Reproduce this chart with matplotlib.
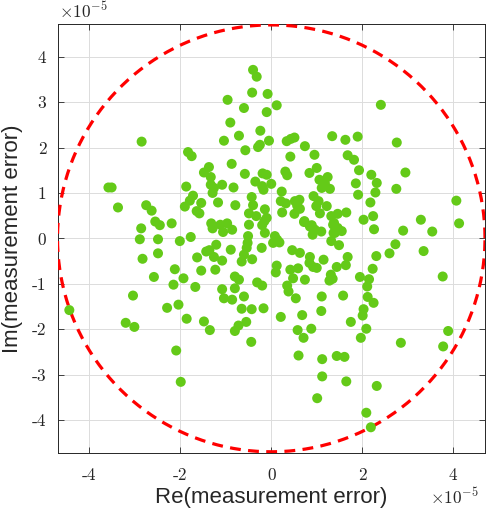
import numpy as np
import matplotlib
matplotlib.use('Agg')
import matplotlib.pyplot as plt

plt.rcParams['axes.unicode_minus'] = False
plt.rcParams['mathtext.fontset'] = 'cm'

# measurement errors, in units of 1e-5
re_err = [
    -0.40, -0.32, -0.42, -0.08, -0.96, -0.60, -0.10, -0.90, -0.24, -0.71,
    -0.05, -1.04, -2.85, -0.29, -0.25, -0.57, -1.83, -1.75, -0.87, -1.37,
    -1.48, -0.58, -0.19, -0.10, -1.33, -0.35, -1.33, -1.26, -1.08, -0.20,
    -0.17, -3.58, -3.51, -1.87, -0.83, -1.29, -0.43, -1.72, -1.79, -1.54,
    -1.17, -3.37, -2.75, -2.63, -0.40, -0.79, -1.90, -0.14, -1.64, -1.58,
    -0.49, -0.33, -0.15, -0.10, -2.55, -2.45, -2.19, -1.32, -1.29, -1.12,
    -0.97, -1.06, -0.86, -0.49, -0.20, -2.86, -0.14, -2.89, -2.49, -2.01,
    -1.77, -0.51, -0.52, -0.54, -1.21, -0.89, -0.21, -2.49, -2.83,
    -1.63, -1.43, -1.36, -1.26, -1.08, -0.65, -0.60, -0.42,
    -2.12, -1.93, -1.54, -1.23, -2.58, -2.15, -1.67, -1.08, -0.80, -0.71,
    -0.80, -0.60, -0.31, -0.20, -3.04, -1.04, -0.86, -4.44, -2.29, -2.04,
    -1.86, -1.48, -1.35, -3.20, -3.01, -0.65, -0.43, -0.17, -0.55, -0.72,
    -0.80, -0.44, -2.09, -1.99,
    0.12, 2.41, 0.34, 0.43, 0.51, 1.34, 1.63, 1.90, 2.76, 0.74,
    0.42, 0.95, 1.68, 1.82, 2.95, 0.31, 0.35, 0.84, 1.00, 1.93,
    2.20, 1.06, 1.24, 1.18, 1.29, 1.11, 2.32, 1.86, 0.00, 2.75,
    2.29, 1.91, 0.23, 0.21, 0.32, 0.52, 0.62, 0.57, 0.93, 1.04,
    0.99, 1.22, 1.07, 0.24, 0.51, 1.65, 1.46, 1.32, 2.18, 2.24,
    2.03, 4.07, 3.29, 4.13, 0.72, 0.89, 0.96, 0.91, 1.10, 1.38,
    1.46, 1.37, 1.55, 2.26, 2.90, 3.54, 0.08, 0.04, 0.18, 1.32,
    1.49, 0.46, 0.63, 0.85, 1.15, 1.68, 2.31, 2.60, 2.73, 3.35,
    0.13, 0.63, 0.73, 0.85, 0.92, 1.36, 1.40,
    2.23, 3.77, 1.95, 2.15, 2.11, 1.64, 1.44, 1.31, 1.35, 1.28,
    0.84, 0.92, 1.00, 0.74, 0.59, 0.42, 0.48, 0.35, 0.38, 0.12,
    0.10, 0.54, 1.11, 1.58, 2.12, 2.25, 0.21, 0.68, 1.10, 2.03,
    2.01, 1.75, 0.58, 0.71, 0.88, 2.09, 1.97, 3.89, 2.85, 3.78,
    0.60, 1.12, 1.44, 1.61, 1.12, 1.65, 2.32, 1.01, 2.09, 2.19,
]
im_err = [
    3.71, 3.56, 3.21, 3.18, 3.05, 2.87, 2.78, 2.55, 2.37, 2.26,
    2.15, 2.15, 2.13, 2.01, 2.06, 1.94, 1.90, 1.81, 1.64, 1.57,
    1.45, 1.42, 1.43, 1.40, 1.35, 1.25, 1.18, 1.11, 1.18, 1.15,
    1.07, 1.12, 1.12, 1.14, 1.12, 1.00, 0.91, 0.94, 0.83, 0.78,
    0.79, 0.68, 0.73, 0.61, 0.73, 0.73, 0.70, 0.64, 0.60, 0.55,
    0.55, 0.49, 0.38, 0.45, 0.37, 0.29, 0.33, 0.33, 0.22, 0.30,
    0.33, 0.14, 0.19, 0.30, 0.29, 0.22, 0.12, -0.02, -0.02, -0.06,
    0.03, 0.05, -0.10, -0.21, -0.14, -0.25, -0.21, -0.33, -0.45,
    -0.42, -0.29, -0.26, -0.41, -0.49, -0.51, -0.36, -0.46,
    -0.68, -0.88, -0.71, -0.69, -0.85, -1.02, -1.07, -1.12, -0.84, -0.91,
    -1.10, -1.28, -0.97, -1.04, -1.26, -1.32, -1.35, -1.58, -1.53, -1.46,
    -1.77, -1.83, -2.02, -1.86, -1.95, -1.55, -1.56, -1.54, -1.84, -1.92,
    -2.04, -2.28, -2.47, -3.16,
    2.93, 2.94, 2.14, 2.19, 2.22, 2.25, 2.17, 2.24, 2.11, 2.03,
    1.80, 1.84, 1.83, 1.73, 1.45, 1.47, 1.39, 1.44, 1.55, 1.50,
    1.40, 1.29, 1.35, 1.21, 1.09, 1.11, 1.22, 1.21, 1.20, 1.09,
    1.01, 0.96, 1.03, 0.82, 0.77, 0.82, 0.85, 0.72, 0.93, 0.82,
    0.71, 0.71, 0.55, 0.57, 0.54, 0.57, 0.54, 0.49, 0.79, 0.49,
    0.41, 0.83, 0.41, 0.33, 0.36, 0.29, 0.19, 0.08, 0.15, 0.34,
    0.23, 0.12, 0.16, 0.20, 0.17, 0.15, 0.05, -0.10, -0.09, -0.06,
    -0.15, -0.26, -0.32, -0.41, -0.47, -0.41, -0.39, -0.33, -0.13, -0.28,
    -0.03, 0.65, 0.38, 0.26, 0.21, 0.30, 0.12,
    -0.67, -0.84, -0.85, -0.90, -1.06, -0.59, -0.63, -0.80, -0.89, -0.93,
    -0.54, -0.63, -0.65, -0.91, -0.66, -0.69, -0.88, -1.04, -1.17, -0.60,
    -0.75, -1.32, -1.28, -1.26, -1.29, -1.42, -1.73, -1.69, -1.60, -1.56,
    -1.70, -1.84, -2.02, -2.19, -1.99, -1.99, -2.19, -2.04, -2.30, -2.38,
    -2.58, -2.66, -2.59, -2.61, -3.04, -3.15, -3.25, -3.52, -3.84, -4.16,
]
radius = 4.7
xticks = [-4, -2, 0, 2, 4]
yticks = [-4, -3, -2, -1, 0, 1, 2, 3, 4]

W, H = 488, 513
fig = plt.figure(figsize=(W / 100, H / 100), dpi=100)
ax = fig.add_axes([57.5 / W, 1 - 452.7 / H, 427.5 / W, 428.7 / H])

t = np.linspace(0, 2 * np.pi, 500)
ax.plot(radius * np.cos(t), radius * np.sin(t), color='#ff0000', lw=2.3,
        ls=(0, (3.4, 2.3)), zorder=3)
ax.scatter(re_err, im_err, s=52, c='#64ca18', edgecolors='none', zorder=4)

ax.set_xlim(-4.70, 4.70)
ax.set_ylim(-4.72, 4.72)
ax.set_xticks(xticks)
ax.set_yticks(yticks)
ax.set_xticklabels([str(v) for v in xticks], fontfamily='cmr10', fontsize=12.5)
ax.set_yticklabels([str(v) for v in yticks], fontfamily='cmr10', fontsize=12.5)
ax.tick_params(direction='in', length=4, width=0.6, top=True, right=True,
               colors='#262626')
ax.tick_params(axis='x', pad=11)
ax.tick_params(axis='y', pad=8)
ax.grid(True, color='#dcdcdc', lw=0.7)
ax.set_axisbelow(True)
for s in ax.spines.values():
    s.set_color('#262626')
    s.set_linewidth(0.7)

ax.set_xlabel('Re(measurement error)', fontsize=16, fontfamily='Liberation Sans',
              color='#262626', labelpad=3)
ax.set_ylabel('Im(measurement error)', fontsize=16, fontfamily='Liberation Sans',
              color='#262626', labelpad=6)

fig.text(59 / W, 1 - 18 / H, r'$\times10^{-5}$', fontsize=12.5, color='#262626')
fig.text(430 / W, 1 - 504 / H, r'$\times10^{-5}$', fontsize=12.5, color='#262626')

fig.savefig('out.png', dpi=100)
